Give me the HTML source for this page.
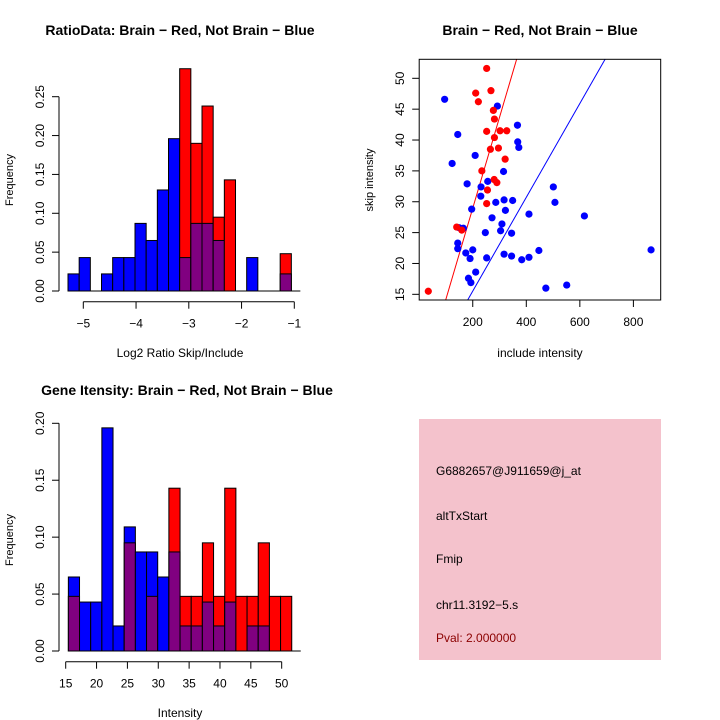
<!DOCTYPE html>
<html><head><meta charset="utf-8"><style>
html,body{margin:0;padding:0;background:#fff;}
svg{display:block;font-family:"Liberation Sans",Arial,sans-serif;}
</style></head><body>
<svg id="s" width="720" height="720" viewBox="0 0 720 720">
<rect width="720" height="720" fill="#fff"/>
<g id="p1"></g>
<g id="p2"></g>
<g id="p3"></g>
<g id="p4">
<rect x="419" y="419" width="242" height="241" fill="#f4c2cc"/>
<text x="436" y="475" font-size="12" fill="#000">G6882657@J911659@j_at</text>
<text x="436" y="520" font-size="12" fill="#000">altTxStart</text>
<text x="436" y="563" font-size="12" fill="#000">Fmip</text>
<text x="436" y="609" font-size="12" fill="#000">chr11.3192−5.s</text>
<text x="436" y="642" font-size="12" fill="#8b0000">Pval: 2.000000</text>
</g>
</svg>
<script>
// ---- Histogram 1 data ----
const ratioBinStart = -5.29, ratioBinWidth = 0.2117;
const ratioBlue = [0.022,0.043,0,0.022,0.043,0.043,0.087,0.065,0.13,0.196,0.043,0.087,0.087,0.065,0,0,0.043,0,0,0.022];
const ratioRed  = [0,0,0,0,0,0,0,0,0,0,0.286,0.19,0.238,0.095,0.143,0,0,0,0,0.048];
const ratioXTicks = [-5,-4,-3,-2,-1];
const ratioYTicks = ["0.00","0.05","0.10","0.15","0.20","0.25"];
// ---- Histogram 2 data ----
const geneBinStart = 15.43, geneBinWidth = 1.81;
const geneBlue = [0.065,0.043,0.043,0.196,0.022,0.109,0.087,0.087,0.065,0.087,0.022,0.022,0.043,0.022,0.043,0,0.022,0.022,0,0];
const geneRed  = [0.048,0,0,0,0,0.095,0,0.048,0,0.143,0.048,0.048,0.095,0.048,0.143,0.048,0.048,0.095,0.048,0.048];
const geneXTicks = [15,20,25,30,35,40,45,50];
const geneYTicks = ["0.00","0.05","0.10","0.15","0.20"];
// ---- Scatter data ----
const redInclude = [252,211,221,268,277,281,252,302,327,281,266,296,321,234,280,290,255,252,140,159,34];
const redSkip    = [51.6,47.6,46.2,48.0,44.8,43.4,41.4,41.5,41.5,40.4,38.5,38.7,36.9,35.0,33.6,33.1,31.9,29.7,25.9,25.4,15.5];
const blueInclude = [95,292,144,367,368,372,209,123,315,179,256,231,230,501,507,286,317,349,196,322,410,617,272,309,304,345,247,149,165,144,144,174,200,447,866,317,345,410,383,252,190,211,184,193,473,551];
const blueSkip    = [46.6,45.5,40.9,42.4,39.7,38.8,37.5,36.2,34.9,32.9,33.3,32.4,30.9,32.4,29.9,29.9,30.3,30.2,28.8,28.6,28.0,27.7,27.4,26.4,25.3,24.9,25.0,25.8,25.7,23.3,22.4,21.7,22.2,22.1,22.2,21.5,21.2,21.0,20.6,20.9,20.8,18.6,17.6,16.9,16.0,16.5];
const redFit = [-0.48, 0.1472];   // intercept, slope
const blueFit = [0.32, 0.076];
const scatterXTicks = [200,400,600,800];
const scatterYTicks = [15,20,25,30,35,40,45,50];

const NS="http://www.w3.org/2000/svg";
function mk(parent,tag,attrs,txt){const e=document.createElementNS(NS,tag);for(const k in attrs)e.setAttribute(k,attrs[k]);if(txt!==undefined)e.textContent=txt;parent.appendChild(e);return e;}

function histogram(g, o){
  const sx=v=>o.x0px+(v-o.x0)*o.kx, sy=v=>o.base-v*o.ky;
  for(let i=0;i<o.blue.length;i++){
    const b=o.blue[i], r=o.red[i];
    const xa=sx(o.start+i*o.w), xb=sx(o.start+(i+1)*o.w);
    const hi=Math.max(b,r), lo=Math.min(b,r);
    if(hi>0){
      const e=mk(g,'rect',{x:xa,y:sy(hi),width:xb-xa,height:sy(0)-sy(hi),fill:b>=r?'#0000ff':'#ff0000',stroke:'#000','stroke-width':1});
      
      
    }
    if(lo>0){
      const e=mk(g,'rect',{x:xa,y:sy(lo),width:xb-xa,height:sy(0)-sy(lo),fill:'#800080',stroke:'#000','stroke-width':1});
      
      
    }
  }
  mk(g,'line',{x1:sx(o.start),x2:sx(o.start+o.blue.length*o.w)+9,y1:o.base,y2:o.base,stroke:'#000'});
  // x axis
  const xt=o.xticks, xa=mk(g,'g',{});
  
  
  mk(xa,'line',{x1:sx(xt[0]),x2:sx(xt[xt.length-1]),y1:o.xAxisY,y2:o.xAxisY,stroke:'#000'});
  xt.forEach(t=>{mk(xa,'line',{x1:sx(t),x2:sx(t),y1:o.xAxisY,y2:o.xAxisY+7,stroke:'#000'});
    mk(xa,'text',{x:sx(t),y:o.xAxisY+26,'font-size':12,'text-anchor':'middle'},String(t).replace('-','−'));});
  // y axis
  const ya=mk(g,'g',{});
  
  
  const yt=o.yticks;
  mk(ya,'line',{x1:59,x2:59,y1:sy(+yt[0]),y2:sy(+yt[yt.length-1]),stroke:'#000'});
  yt.forEach(t=>{const y=sy(+t);mk(ya,'line',{x1:52,x2:59,y1:y,y2:y,stroke:'#000'});
    mk(ya,'text',{x:44,y:y,'font-size':12,'text-anchor':'middle',transform:`rotate(-90 44 ${y})`},t);});
  const yl=mk(g,'text',{x:13,y:o.yLabY,'font-size':11,'text-anchor':'middle',transform:`rotate(-90 13 ${o.yLabY})`},'Frequency');
  
  
  const xl=mk(g,'text',{x:o.xLabX,y:o.xLabY,'font-size':12,'text-anchor':'middle'},o.xLab);
  
  
  const ti=mk(g,'text',{x:o.titleX,y:o.titleY,'font-size':14,'font-weight':'bold','text-anchor':'middle'},o.title);
  
  
}

histogram(document.getElementById('p1'),{blue:ratioBlue,red:ratioRed,start:ratioBinStart,w:ratioBinWidth,
  x0:-5,x0px:83.3,kx:52.75,base:291,ky:777.2,xticks:ratioXTicks,yticks:ratioYTicks,xAxisY:301.7,
  yLabY:180,xLab:'Log2 Ratio Skip/Include',xLabX:180,xLabY:357,title:'RatioData: Brain − Red, Not Brain − Blue',titleX:180,titleY:35});
histogram(document.getElementById('p3'),{blue:geneBlue,red:geneRed,start:geneBinStart,w:geneBinWidth,
  x0:15,x0px:65.7,kx:6.171,base:651,ky:1138.5,xticks:geneXTicks,yticks:geneYTicks,xAxisY:661.7,
  yLabY:540,xLab:'Intensity',xLabX:180,xLabY:717,title:'Gene Itensity: Brain − Red, Not Brain − Blue',titleX:187,titleY:395});

// Scatter
(function(){
  const g=document.getElementById('p2');
  const L=419.2,R=660.7,T=59.3,B=300;
  const xmin=0,xmax=902,ymin=14.08,ymax=53.08;
  const sx=v=>L+(v-xmin)/(xmax-xmin)*(R-L), sy=v=>B-(v-ymin)/(ymax-ymin)*(B-T);
  const clip=mk(mk(g,'defs',{}),'clipPath',{id:'sc'});
  mk(clip,'rect',{x:L,y:T,width:R-L,height:B-T});
  function fit(f,col,name){
    const x1=xmin,x2=xmax;
    const e=mk(g,'line',{x1:sx(x1),y1:sy(f[0]+f[1]*x1),x2:sx(x2),y2:sy(f[0]+f[1]*x2),stroke:col,'stroke-width':1,'clip-path':'url(#sc)'});
    
    
  }
  fit(redFit,'#ff0000','brain-fit-line');
  fit(blueFit,'#0000ff','not-brain-fit-line');
  function pts(xs,ys,col,name){
    xs.forEach((x,i)=>{const c=mk(g,'circle',{cx:sx(x),cy:sy(ys[i]),r:3.6,fill:col});
      
      });
  }
  pts(blueInclude,blueSkip,'#0000ff','not-brain-point');
  pts(redInclude,redSkip,'#ff0000','brain-point');
  mk(g,'rect',{x:L,y:T,width:R-L,height:B-T,fill:'none',stroke:'#000','stroke-width':1});
  const xa=mk(g,'g',{});
  
  
  scatterXTicks.forEach(t=>{mk(xa,'line',{x1:sx(t),x2:sx(t),y1:B,y2:B+7,stroke:'#000'});
    mk(xa,'text',{x:sx(t),y:B+26,'font-size':12,'text-anchor':'middle'},t);});
  const ya=mk(g,'g',{});
  
  
  scatterYTicks.forEach(t=>{const y=sy(t);mk(ya,'line',{x1:L-7,x2:L,y1:y,y2:y,stroke:'#000'});
    mk(ya,'text',{x:404,y:y,'font-size':12,'text-anchor':'middle',transform:`rotate(-90 404 ${y})`},t);});
  const xl=mk(g,'text',{x:540,y:357,'font-size':12,'text-anchor':'middle'},'include intensity');
  
  
  const yl=mk(g,'text',{x:373,y:180,'font-size':11,'text-anchor':'middle',transform:'rotate(-90 373 180)'},'skip intensity');
  
  
  const ti=mk(g,'text',{x:540,y:35,'font-size':14,'font-weight':'bold','text-anchor':'middle'},'Brain − Red, Not Brain − Blue');
  
  
})();
</script>
</body></html>
